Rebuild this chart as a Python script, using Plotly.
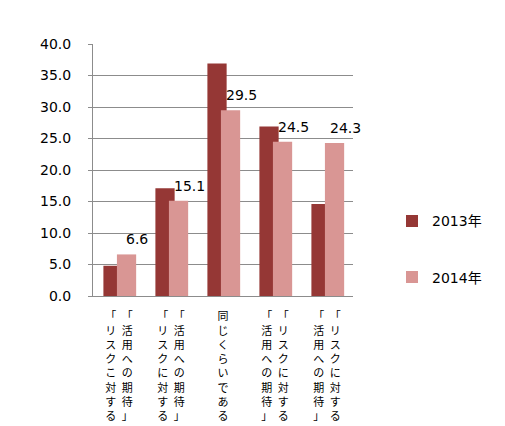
import plotly.graph_objects as go

# vertical category labels, columns listed in reading order (right column first)
label_columns = [
    ["「活用への期待」", "「リスクこ対する"],
    ["「活用への期待」", "「リスクに対する"],
    ["同じくらいである"],
    ["「リスクに対する", "「活用への期待」"],
    ["「リスクに対する", "「活用への期待」"],
]
categories = ["c1", "c2", "c3", "c4", "c5"]
values_2013 = [4.8, 17.1, 36.9, 26.9, 14.6]
values_2014 = [6.6, 15.1, 29.5, 24.5, 24.3]
y_ticks = [0, 5, 10, 15, 20, 25, 30, 35, 40]

DARK = "#953735"
PINK = "#D99694"
GRID = "#8C8C8C"


def vertical_text(cols):
    """Stack characters top-to-bottom, columns laid out right-to-left."""
    cols = list(reversed(cols))  # left column first on each line
    n = max(len(c) for c in cols)
    lines = []
    for i in range(n):
        chars = [c[i] if i < len(c) else "\u3000" for c in cols]
        lines.append("\u2002".join(chars))
    return "<br>".join(lines)


tick_text = [vertical_text(c) for c in label_columns]

fig = go.Figure()
fig.add_trace(go.Bar(
    x=categories, y=values_2013, name="2013年",
    marker=dict(color=DARK, line_width=0),
    width=0.37, offset=-0.30, legendgroup="a",
))
fig.add_trace(go.Bar(
    x=categories, y=values_2014, name="2014年",
    marker=dict(color=PINK, line_width=0),
    width=0.37, offset=-0.04, legendgroup="b",
))

# data labels for 2014 only
for cat, v in zip(categories, values_2014):
    fig.add_annotation(
        x=cat, y=v, text=f"{v:.1f}", showarrow=False,
        xshift=18, yshift=5, yanchor="bottom",
        font=dict(family="DejaVu Sans", size=14, color="#000000"),
    )

fig.update_layout(
    width=505, height=426,
    margin=dict(l=85, r=160, t=36, b=138),
    barmode="overlay",
    plot_bgcolor="white", paper_bgcolor="white",
    font=dict(family="DejaVu Sans, Noto Sans CJK JP", size=14, color="#000000"),
    legend=dict(
        x=1.15, xanchor="left", y=0.36, yanchor="top",
        tracegroupgap=35, itemwidth=30,
        font=dict(family="DejaVu Sans, Noto Sans CJK JP", size=14),
    ),
)
fig.update_xaxes(
    tickmode="array", tickvals=categories, ticktext=tick_text,
    tickfont=dict(family="Noto Sans CJK JP", size=11, color="#000000"),
    showline=True, linecolor=GRID, linewidth=1,
    ticks="", ticklabelstandoff=10, automargin=False,
    range=[-0.5, 4.5],
)
fig.update_yaxes(
    range=[0, 40], tickvals=y_ticks, tickformat=".1f",
    showgrid=True, gridcolor=GRID, gridwidth=1,
    showline=True, linecolor=GRID, linewidth=1,
    ticks="outside", ticklen=4, tickcolor=GRID,
    ticklabelstandoff=14, zeroline=False, automargin=False,
)

fig.write_html("out.html")
